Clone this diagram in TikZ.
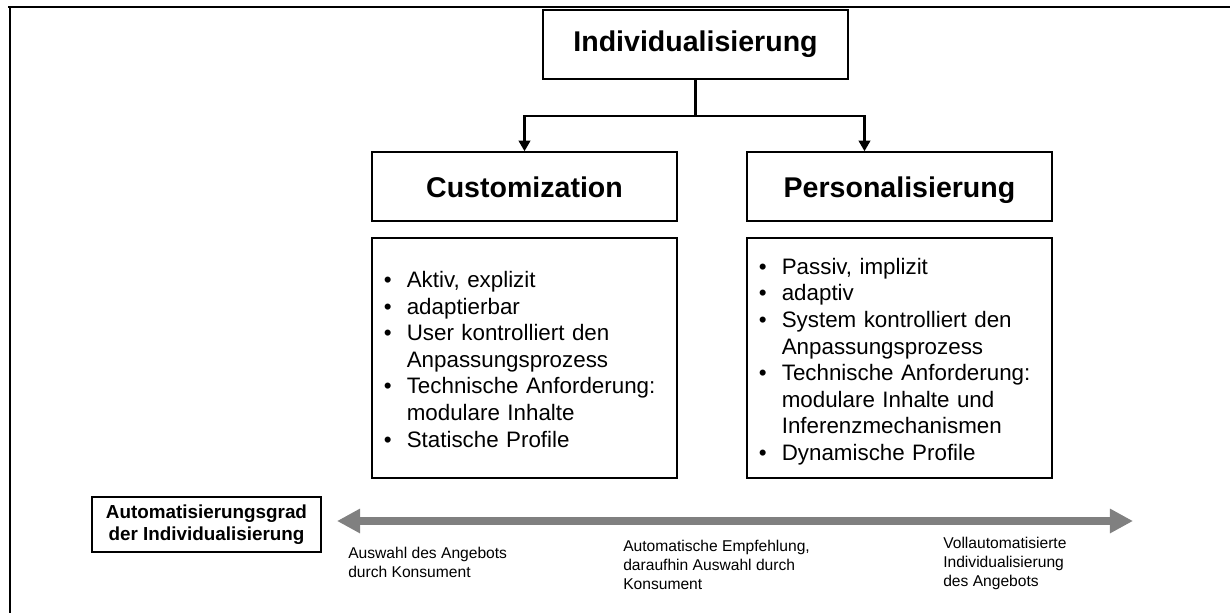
\documentclass[tikz,border=0pt]{standalone}
\usepackage{fontspec}
\setmainfont{Liberation Sans}
\usetikzlibrary{arrows.meta}
\tikzset{
	box/.style={draw, line width=1pt, inner sep=0pt},
	titlebox/.style={box, minimum width=7.625cm, minimum height=1.725cm, font=\fontsize{20.3}{24}\selectfont\bfseries},
	heading/.style={titlebox, text height=16pt, text depth=0pt},
	listbox/.style={box, minimum height=6cm, text width=7.025cm, inner xsep=0.3cm, align=left, font=\fontsize{15.9}{18.9}\selectfont},
	autobox/.style={box, minimum width=5.725cm, minimum height=1.375cm, align=center, font=\fontsize{13.4}{15.6}\selectfont\bfseries},
	notes/.style={inner sep=0pt, anchor=north west, align=left, font=\fontsize{11.1}{13.3}\selectfont},
	conn/.style={line width=1.9pt, -{Triangle[width=8pt,length=7.5pt]}},
	axis/.style={line width=6pt, color=black!50, {Triangle[width=16.4pt,length=16.4pt]}-{Triangle[width=16.4pt,length=16.4pt]}},
	frame/.style={line width=1.5pt}
}
\def\blist#1{\raisebox{-0.1cm}[\height][\depth]{\begin{tabular}{@{}l@{\hspace{0.375cm}}l@{}}#1\end{tabular}}}

\begin{document}
\begin{tikzpicture}[x=0.025cm, y=-0.025cm]
			%%%%% START %%%%%
			\useasboundingbox (0,0) rectangle (1230,613);
			
			\draw[frame] (8,7) -- (1230,7);
			\draw[frame] (10,7) -- (10,613);
			
			\node[titlebox] (indiv) at (695.5,44.5) {Individualisierung};
			\node[heading] (cust) at (524.5,186.5) {Customization};
			\node[heading] (pers) at (899.5,186.5) {Personalisierung};
			
			\coordinate (split) at (695.5,116);
			\draw[conn] (indiv.south) -- (split) -| (cust.north);
			\draw[conn] (split) -| ([xshift=-0.875cm]pers.north);
			
			\node[listbox] (custlist) at (524.5,358) {\blist{
				\textbullet & Aktiv, explizit\\
				\textbullet & adaptierbar\\
				\textbullet & User kontrolliert den\\
				 & Anpassungsprozess\\
				\textbullet & Technische Anforderung:\\
				 & modulare Inhalte\\
				\textbullet & Statische Profile}};
			\node[listbox] (perslist) at (899.5,358) {\blist{
				\textbullet & Passiv, implizit\\
				\textbullet & adaptiv\\
				\textbullet & System kontrolliert den\\
				 & Anpassungsprozess\\
				\textbullet & Technische Anforderung:\\
				 & modulare Inhalte und\\
				 & Inferenzmechanismen\\
				\textbullet & Dynamische Profile}};
			
			\node[autobox] (auto) at (206.5,524.5) {Automatisierungsgrad\\der Individualisierung};
			
			\coordinate (axl) at (337,521);
			\coordinate (axr) at (1133,521);
			\draw[axis] (axl) -- (axr);
			
			\node[notes] (manual) at (348,547) {Auswahl des Angebots\\durch Konsument};
			\node[notes] (semi) at (623,540) {Automatische Empfehlung,\\daraufhin Auswahl durch\\Konsument};
			\node[notes] (full) at (943,537) {Vollautomatisierte\\Individualisierung\\des Angebots};
			
			%%%%% END %%%%%
\end{tikzpicture}
\end{document}
